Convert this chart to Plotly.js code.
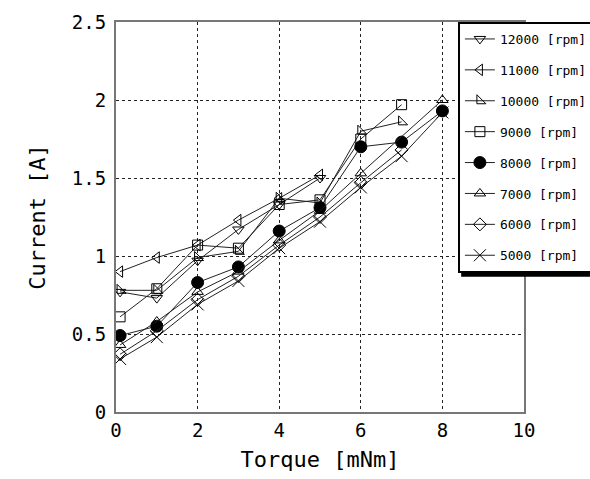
<!DOCTYPE html>
<html>
<head>
<meta charset="utf-8">
<script src="https://cdn.plot.ly/plotly-3.0.1.min.js"></script>
<style>html,body{margin:0;padding:0;background:#fff;}#chart{width:590px;height:479px;}</style>
</head>
<body>
<div id="chart"></div>
<script>
const seriesNames = ["12000 [rpm]","11000 [rpm]","10000 [rpm]","9000 [rpm]","8000 [rpm]","7000 [rpm]","6000 [rpm]","5000 [rpm]"];
const torque12000 = [0.1, 1, 2, 3, 4, 5];
const current12000 = [0.77, 0.73, 0.97, 1.17, 1.33, 1.50];
const torque11000 = [0.1, 1, 2, 3, 4, 5];
const current11000 = [0.90, 0.99, 1.07, 1.23, 1.37, 1.52];
const torque10000 = [0.1, 1, 2, 3, 4, 5, 6, 7];
const current10000 = [0.78, 0.78, 0.99, 1.03, 1.37, 1.34, 1.80, 1.86];
const torque9000 = [0.1, 1, 2, 3, 4, 5, 6, 7];
const current9000 = [0.61, 0.79, 1.07, 1.05, 1.33, 1.36, 1.75, 1.97];
const torque8000 = [0.1, 1, 2, 3, 4, 5, 6, 7, 8];
const current8000 = [0.49, 0.55, 0.83, 0.93, 1.16, 1.31, 1.70, 1.73, 1.93];
const torque7000 = [0.1, 1, 2, 3, 4, 5, 6, 8];
const current7000 = [0.43, 0.58, 0.77, 0.90, 1.10, 1.29, 1.53, 2.00];
const torque6000 = [0.1, 1, 2, 3, 4, 5, 6, 7];
const current6000 = [0.37, 0.52, 0.72, 0.87, 1.07, 1.25, 1.47, 1.68];
const torque5000 = [0.1, 1, 2, 3, 4, 5, 6, 7, 8];
const current5000 = [0.34, 0.48, 0.69, 0.84, 1.05, 1.22, 1.44, 1.64, 1.92];
const xTickVals = [0, 2, 4, 6, 8, 10];
const yTickVals = [0, 0.5, 1, 1.5, 2, 2.5];

const xs = [torque12000, torque11000, torque10000, torque9000, torque8000, torque7000, torque6000, torque5000];
const ys = [current12000, current11000, current10000, current9000, current8000, current7000, current6000, current5000];
const symbols = ["triangle-down-open","triangle-left-open","triangle-sw-open","square-open","circle","triangle-up-open","diamond-open","x-thin-open"];
const sizes = [10, 10, 10, 10, 12, 10, 10, 12];

const traces = seriesNames.map((n, i) => ({
  x: xs[i], y: ys[i], name: n, type: "scatter", mode: "lines+markers",
  legendgroup: "g" + i,
  line: {color: "#222", width: 1},
  marker: {symbol: symbols[i], size: sizes[i], color: "#000", line: {color: "#000", width: 1}}
}));

const mono = "DejaVu Sans Mono, Liberation Mono, monospace";
const layout = {
  width: 590, height: 479,
  margin: {l: 116, r: 66, t: 22, b: 67, autoexpand: false},
  paper_bgcolor: "#fff", plot_bgcolor: "#fff",
  showlegend: true,
  legend: {
    x: 0.838, xanchor: "left", y: 1, yanchor: "top",
    bgcolor: "#fff", bordercolor: "#000", borderwidth: 2,
    font: {family: mono, size: 13, color: "#000"},
    traceorder: "grouped", tracegroupgap: 11, itemwidth: 30
  },
  shapes: [
    {type: "rect", xref: "paper", yref: "paper", layer: "above",
     x0: 0.846, x1: 1.3, y0: 0.347, y1: 0.98,
     fillcolor: "#000", line: {width: 0}}
  ],
  xaxis: {
    range: [0, 10], tickvals: xTickVals, ticktext: xTickVals.map(String),
    showgrid: true, gridcolor: "#222", griddash: "dot", gridwidth: 1,
    showline: true, linecolor: "#777", linewidth: 2, mirror: true,
    ticks: "", zeroline: false,
    tickfont: {family: mono, size: 19, color: "#000"},
    title: {text: "Torque [mNm]", font: {family: mono, size: 22, color: "#000"}, standoff: 12}
  },
  yaxis: {
    range: [0, 2.5], tickvals: yTickVals, ticktext: yTickVals.map(String),
    showgrid: true, gridcolor: "#222", griddash: "dot", gridwidth: 1,
    showline: true, linecolor: "#777", linewidth: 2, mirror: true,
    ticks: "", zeroline: false, ticklabelstandoff: 4,
    tickfont: {family: mono, size: 19, color: "#000"},
    title: {text: "Current [A]", font: {family: mono, size: 22, color: "#000"}, standoff: 20}
  }
};
Plotly.newPlot("chart", traces, layout, {displayModeBar: false, staticPlot: true});
</script>
</body>
</html>
